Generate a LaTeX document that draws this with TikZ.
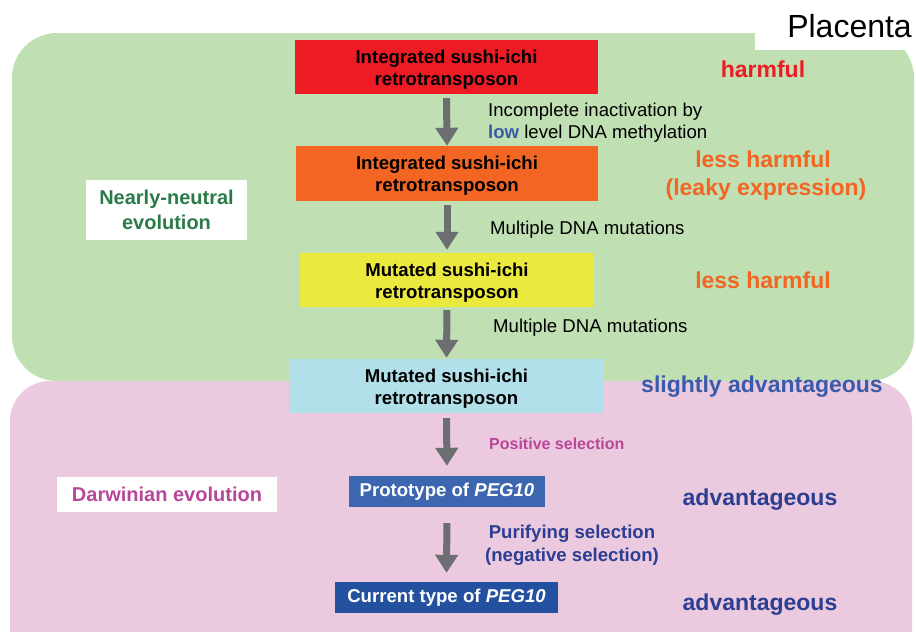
\documentclass[tikz,border=0pt]{standalone}
\usepackage{fontspec}
\setmainfont{Liberation Sans}
\usetikzlibrary{arrows.meta}
\definecolor{greenbg}{RGB}{192,223,178}
\definecolor{pinkbg}{RGB}{235,201,223}
\definecolor{boxred}{RGB}{237,28,36}
\definecolor{boxorange}{RGB}{242,101,34}
\definecolor{boxyellow}{RGB}{235,232,62}
\definecolor{boxblue}{RGB}{177,224,235}
\definecolor{boxproto}{RGB}{61,102,176}
\definecolor{boxcurrent}{RGB}{35,81,160}
\definecolor{arrowgray}{RGB}{109,110,113}
\definecolor{txtred}{RGB}{237,28,36}
\definecolor{txtorange}{RGB}{242,101,34}
\definecolor{txtblue}{RGB}{58,92,168}
\definecolor{txtdarkblue}{RGB}{43,62,145}
\definecolor{txtmagenta}{RGB}{184,71,154}
\definecolor{txtgreen}{RGB}{42,123,72}
\newcommand\stagetext[2]{\raisebox{-3pt}[\height][\depth]{\begin{tabular}{@{}c@{}}#1\\#2\end{tabular}}}
\tikzset{
  stagebox/.style={inner sep=0pt, text=black,
    font=\fontsize{18.6}{22}\selectfont\bfseries},
  pegbox/.style={inner sep=0pt, align=center, text=white,
    font=\fontsize{18.6}{22}\selectfont\bfseries},
  evolbox/.style={fill=white, inner sep=0pt, align=center,
    font=\fontsize{20}{25}\selectfont\bfseries},
  ratelabel/.style={anchor=base, inner sep=0pt,
    font=\fontsize{23}{28}\selectfont\bfseries},
  midlabel/.style={anchor=base west, inner sep=0pt,
    font=\fontsize{18.6}{22}\selectfont},
  flowarrow/.style={draw=arrowgray, line width=7pt,
    -{Triangle[width=22pt,length=18pt]}}
}
\begin{document}
\begin{tikzpicture}[x=1pt,y=-1pt]
\useasboundingbox (0,0) rectangle (916,632);
\clip (0,0) rectangle (916,632);
% regions
\fill[pinkbg, rounded corners=40pt] (10,381) rectangle (912,680);
\fill[greenbg, rounded corners=45pt] (12,33) rectangle (914,381);
\fill[white] (755,0) rectangle (916,50);
\node[anchor=base east, inner sep=0pt, font=\fontsize{32}{38}\selectfont] (placenta) at (912,37) {Placenta};

% stage boxes
\node[stagebox, fill=boxred, minimum width=303pt, minimum height=54pt] (s1) at (446.5,67) {\stagetext{Integrated sushi-ichi}{retrotransposon}};
\node[stagebox, fill=boxorange, minimum width=302pt, minimum height=55pt] (s2) at (447,173.5) {\stagetext{Integrated sushi-ichi}{retrotransposon}};
\node[stagebox, fill=boxyellow, minimum width=294pt, minimum height=54pt] (s3) at (447,280) {\stagetext{Mutated sushi-ichi}{retrotransposon}};
\node[stagebox, fill=boxblue, minimum width=315pt, minimum height=54pt] (s4) at (446.5,386) {\stagetext{Mutated sushi-ichi}{retrotransposon}};
\node[pegbox, fill=boxproto, minimum width=196pt, minimum height=31pt] (s5) at (447,491.5) {Prototype of \textit{PEG10}};
\node[pegbox, fill=boxcurrent, minimum width=223pt, minimum height=31pt] (s6) at (446.5,597.5) {Current type of \textit{PEG10}};

% arrows
\draw[flowarrow, shorten <=4pt] (s1.south) -- (s2.north);
\draw[flowarrow, shorten <=4pt, shorten >=3pt] (s2.south) -- (s3.north);
\draw[flowarrow, shorten <=3pt, shorten >=1pt] (s3.south) -- (s4.north);
\draw[flowarrow, shorten <=5pt, shorten >=10pt] (s4.south) -- (s5.north);
\draw[flowarrow, shorten <=16pt, shorten >=9pt] (s5.south) -- (s6.north);

% middle labels
\node[midlabel] (m1a) at (488,116) {Incomplete inactivation by};
\node[midlabel] (m1b) at (488,138) {{\color{txtblue}\bfseries low} level DNA methylation};
\node[midlabel] (m2) at (490,234) {Multiple DNA mutations};
\node[midlabel] (m3) at (493,332) {Multiple DNA mutations};
\node[anchor=base west, inner sep=0pt, text=txtmagenta, font=\fontsize{16}{20}\selectfont\bfseries] (m4) at (489,449) {Positive selection};
\node[anchor=base, inner sep=0pt, text=txtdarkblue, font=\fontsize{18.6}{22}\selectfont\bfseries] (m5a) at (572,538) {Purifying selection};
\node[anchor=base, inner sep=0pt, text=txtdarkblue, font=\fontsize{18.6}{22}\selectfont\bfseries] (m5b) at (572,561) {(negative selection)};

% right labels
\node[ratelabel, text=txtred] (r1) at (763,77) {harmful};
\node[ratelabel, text=txtorange] (r2a) at (763,167) {less harmful};
\node[ratelabel, text=txtorange] (r2b) at (766,195) {(leaky expression)};
\node[ratelabel, text=txtorange] (r3) at (763,288) {less harmful};
\node[ratelabel, text=txtblue] (r4) at (762,392) {slightly advantageous};
\node[ratelabel, text=txtdarkblue] (r5) at (760,505) {advantageous};
\node[ratelabel, text=txtdarkblue] (r6) at (760,610) {advantageous};

% evolution boxes
\node[evolbox, text=txtgreen, minimum width=161pt, minimum height=60pt] (e1) at (166.5,210) {Nearly-neutral\\evolution};
\node[evolbox, text=txtmagenta, minimum width=220pt, minimum height=35pt] (e2) at (167,494.5) {Darwinian evolution};
\end{tikzpicture}
\end{document}
